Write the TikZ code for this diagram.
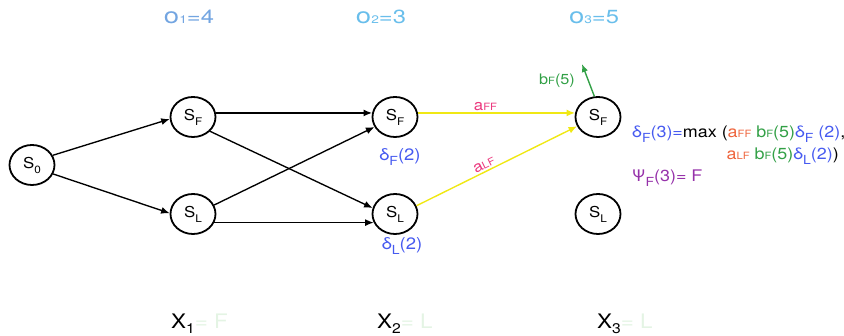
\documentclass[tikz,border=0pt]{standalone}
\usepackage{fontspec}
\setmainfont{TeX Gyre Heros}[FakeStretch=1.12]
\newfontfamily\ofont{TeX Gyre Heros}[FakeStretch=1.25]
\usetikzlibrary{shapes.geometric,arrows.meta}
\definecolor{obluea}{RGB}{115,165,225}
\definecolor{oblueb}{RGB}{105,190,235}
\definecolor{dblue}{RGB}{70,90,240}
\definecolor{apink}{RGB}{235,55,125}
\definecolor{aorange}{RGB}{238,100,60}
\definecolor{bgreen}{RGB}{50,160,70}
\definecolor{psipurple}{RGB}{150,50,170}
\definecolor{yel}{RGB}{240,232,20}
\definecolor{faint}{RGB}{228,244,228}
\newcommand\ssub[1]{\raisebox{-5pt}{\fontsize{10.5}{10.5}\selectfont #1}}
\newcommand\dsub[1]{\raisebox{-5pt}{\fontsize{12.5}{12.5}\selectfont #1}}
\newcommand\bsub[1]{{\fontsize{10}{10}\selectfont #1}}
\newcommand\osub[1]{{\fontsize{11}{11}\selectfont #1}}
\newcommand\xsub[1]{\raisebox{-5pt}{\fontsize{14}{14}\selectfont #1}}
\begin{document}
\begin{tikzpicture}[x=1pt,y=-1pt,
  state/.style={ellipse,draw,line width=1.8pt,minimum width=45pt,minimum height=40pt,inner sep=0pt,font=\fontsize{15}{17}\selectfont},
  edge/.style={-{Latex[length=8.5pt,width=7pt]},line width=1.35pt},
  yedge/.style={-{Latex[length=8.5pt,width=7pt]},line width=1.4pt,draw=yel},
  gedge/.style={-{Latex[length=8pt,width=6.5pt]},line width=1.4pt,draw=bgreen},
  olab/.style={anchor=base,inner sep=0pt,font=\ofont\fontsize{19}{21}\selectfont},
  dlab/.style={anchor=base,inner sep=0pt,text=dblue,font=\fontsize{16.5}{18}\selectfont},
  alab/.style={inner sep=2pt,text=apink,font=\fontsize{15}{17}\selectfont},
  flab/.style={inner sep=0pt,font=\fontsize{16}{18}\selectfont},
  xlab/.style={anchor=base west,inner sep=0pt,font=\fontsize{20}{22}\selectfont}
]
\useasboundingbox (0,0) rectangle (844,336);
% states
\node[state] (s0)  at (32,165)  {S\ssub{0}};
\node[state] (sf1) at (193,117) {S\ssub{F}};
\node[state] (sl1) at (193,214) {S\ssub{L}};
\node[state] (sf2) at (395,117) {S\ssub{F}};
\node[state] (sl2) at (395,214) {S\ssub{L}};
\node[state] (sf3) at (598,117) {S\ssub{F}};
\node[state] (sl3) at (598,214) {S\ssub{L}};
% black edges
\draw[edge] (s0.25) -- (sf1.185);
\draw[edge] (s0.-23) -- (sl1.178);
\draw[edge] (sf1.10) -- (sf2.170);
\draw[edge] (sf1.-40) -- (sl2.165);
\draw[edge] (sl1.23) -- (sf2.206);
\draw[edge] (sl1.-22) -- (sl2.202);
% yellow edges
\draw[yedge] (sf2.10) -- node[alab,pos=0.43,above] {a\bsub{FF}} (sf3.170);
\draw[yedge] (sl2.21) -- node[alab,pos=0.44,above,sloped] {a\bsub{LF}} (sf3.204);
% green emission arrow
\coordinate (bend) at (582,64);
\draw[gedge] (sf3.100) -- (bend);
\node[inner sep=0pt,text=bgreen,font=\fontsize{14.5}{16}\selectfont] (blab) at (557,81) {b\bsub{F}(5)};
% observations
\node[olab,text=obluea] (o1) at (189,24) {{\fontsize{22}{22}\selectfont o}\osub{1}=4};
\node[olab,text=oblueb] (o2) at (381,24) {{\fontsize{22}{22}\selectfont o}\osub{2}=3};
\node[olab,text=oblueb] (o3) at (594,24) {{\fontsize{22}{22}\selectfont o}\osub{3}=5};
% deltas
\node[dlab] (d2f) at (400,161) {δ\dsub{F}(2)};
\node[dlab] (d2l) at (402,250) {δ\dsub{L}(2)};
% formula
\node[flab,anchor=base west] (f1) at (632,138) {\textcolor{dblue}{δ\dsub{F}(3)=}max (\textcolor{aorange}{a\bsub{FF}} \textcolor{bgreen}{b\bsub{F}(5)}\textcolor{dblue}{δ\dsub{F} (2)},};
\node[flab,anchor=base east] (f2) at (839,160) {\textcolor{aorange}{a\bsub{LF}} \textcolor{bgreen}{b\bsub{F}(5)}\textcolor{dblue}{δ\dsub{L}(2)})};
\node[flab,anchor=base west,text=psipurple] (f3) at (632,182) {Ψ\dsub{F}(3)= F};
% bottom
\node[xlab] (x1) at (171,329) {X\xsub{1}\textcolor{faint}{ = F}};
\node[xlab] (x2) at (377,329) {X\xsub{2}\textcolor{faint}{ = L}};
\node[xlab] (x3) at (597,329) {X\xsub{3}\textcolor{faint}{ = L}};
\end{tikzpicture}
\end{document}
